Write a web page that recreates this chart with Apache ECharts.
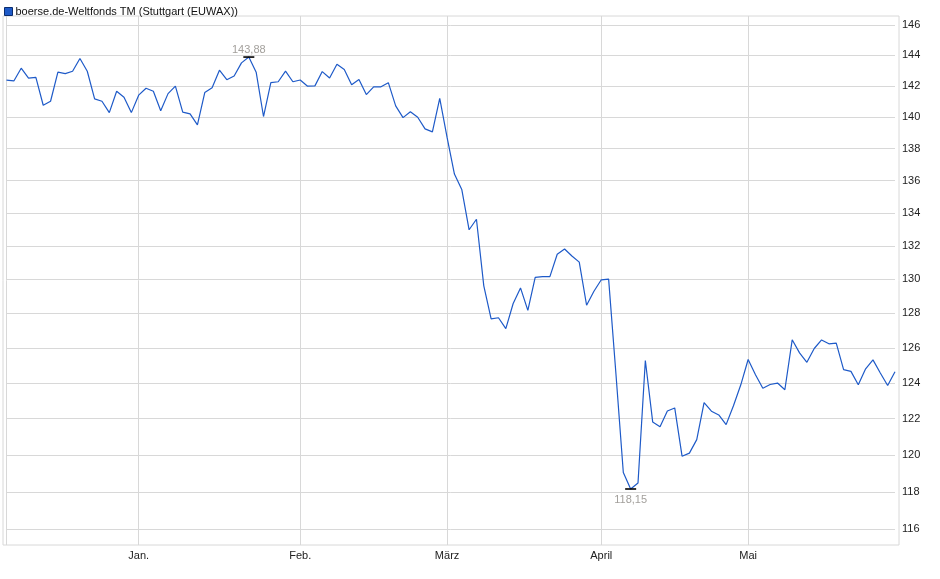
<!DOCTYPE html>
<html>
<head>
<meta charset="utf-8">
<script src="https://cdn.jsdelivr.net/npm/echarts@6/dist/echarts.min.js"></script>
<style>
html,body{margin:0;padding:0;background:#fff;}
#c{width:940px;height:579px;}
</style>
</head>
<body>
<div id="c"></div>
<script>
// Trading days (Börse Stuttgart), Dec 2024 – May 2025
var dates = [
 "2024-12-02","2024-12-03","2024-12-04","2024-12-05","2024-12-06","2024-12-09","2024-12-10","2024-12-11","2024-12-12","2024-12-13",
 "2024-12-16","2024-12-17","2024-12-18","2024-12-19","2024-12-20","2024-12-23","2024-12-27","2024-12-30",
 "2025-01-02","2025-01-03","2025-01-06","2025-01-07","2025-01-08","2025-01-09","2025-01-10","2025-01-13","2025-01-14","2025-01-15",
 "2025-01-16","2025-01-17","2025-01-20","2025-01-21","2025-01-22","2025-01-23","2025-01-24","2025-01-27","2025-01-28","2025-01-29",
 "2025-01-30","2025-01-31",
 "2025-02-03","2025-02-04","2025-02-05","2025-02-06","2025-02-07","2025-02-10","2025-02-11","2025-02-12","2025-02-13","2025-02-14",
 "2025-02-17","2025-02-18","2025-02-19","2025-02-20","2025-02-21","2025-02-24","2025-02-25","2025-02-26","2025-02-27","2025-02-28",
 "2025-03-03","2025-03-04","2025-03-05","2025-03-06","2025-03-07","2025-03-10","2025-03-11","2025-03-12","2025-03-13","2025-03-14",
 "2025-03-17","2025-03-18","2025-03-19","2025-03-20","2025-03-21","2025-03-24","2025-03-25","2025-03-26","2025-03-27","2025-03-28",
 "2025-03-31",
 "2025-04-01","2025-04-02","2025-04-03","2025-04-04","2025-04-07","2025-04-08","2025-04-09","2025-04-10","2025-04-11","2025-04-14",
 "2025-04-15","2025-04-16","2025-04-17","2025-04-22","2025-04-23","2025-04-24","2025-04-25","2025-04-28","2025-04-29","2025-04-30",
 "2025-05-02","2025-05-05","2025-05-06","2025-05-07","2025-05-08","2025-05-09","2025-05-12","2025-05-13","2025-05-14","2025-05-15",
 "2025-05-16","2025-05-19","2025-05-20","2025-05-21","2025-05-22","2025-05-23","2025-05-26","2025-05-27","2025-05-28","2025-05-29",
 "2025-05-30"
];

var prices = [
 142.38,142.32,143.15,142.51,142.55,140.75,141.01,142.89,142.80,142.95,
 143.79,142.95,141.16,141.01,140.28,141.65,141.27,140.28,
 141.40,141.85,141.65,140.40,141.50,141.98,140.31,140.20,139.50,141.57,
 141.88,143.02,142.40,142.64,143.50,143.88,142.89,140.03,142.21,142.27,
 142.96,142.27,
 142.38,141.98,142.00,142.93,142.51,143.41,143.07,142.08,142.42,141.44,
 141.94,141.94,142.21,140.71,139.96,140.33,139.98,139.24,139.05,141.20,
 138.70,136.40,135.45,132.98,133.62,129.62,127.68,127.75,127.12,128.58,
 129.50,128.18,130.12,130.17,130.17,131.50,131.82,131.40,131.03,128.48,
 129.30,
 129.98,130.02,124.50,119.04,118.15,118.47,125.28,121.82,121.55,122.43,
 122.60,119.93,120.10,120.84,122.90,122.42,122.21,121.67,122.72,123.90,
 125.34,124.47,123.71,123.92,124.00,123.62,126.47,125.72,125.18,125.97,
 126.46,126.24,126.28,124.76,124.66,123.90,124.81,125.32,124.57,123.86,
 124.64
];

var yTicks = [116,118,120,122,124,126,128,130,132,134,136,138,140,142,144,146];
var monthKeys  = ["2024-12","2025-01","2025-02","2025-03","2025-04","2025-05"];
var monthNames = ["Dez.","Jan.","Feb.","März","April","Mai"];
var seriesName = "boerse.de-Weltfonds TM (Stuttgart (EUWAX))";

function isMonthStart(i){
  if (i === 0) return true;
  return dates[i].slice(0,7) !== dates[i-1].slice(0,7);
}
function fmtDe(v){ return v.toFixed(2).replace('.', ','); }

var FONT = "'Liberation Sans', Arial, sans-serif";
var GRID_C = '#d8d8d8';
var LINE_C = '#1e5ac8';

var chart = echarts.init(document.getElementById('c'), null, {renderer:'canvas'});
chart.setOption({
  animation: false,
  backgroundColor: '#fff',
  textStyle: {fontFamily: FONT},
  legend: {
    left: -1, top: 1,
    icon: 'rect', itemWidth: 8, itemHeight: 8, itemGap: 4,
    textStyle: {fontSize: 11, color: '#111', fontFamily: FONT, padding:[0,0,0,-2]},
    itemStyle: {color: LINE_C, borderColor: '#0b2c6e', borderWidth: 1},
    data: [seriesName]
  },
  grid: [
    {left: 6.5, right: 45, top: 16, bottom: 34, show: false, containLabel: false},
    {left: 3, right: 41, top: 16, bottom: 34, show: true, borderColor: GRID_C, borderWidth: 1, backgroundColor: 'transparent'}
  ],
  xAxis: {
    type: 'category', gridIndex: 0,
    data: dates, boundaryGap: false,
    axisLine: {show: false},
    axisTick: {show: false},
    axisLabel: {
      interval: function(i){ return i > 0 && isMonthStart(i); },
      formatter: function(v){ var k = monthKeys.indexOf(v.slice(0,7)); return k >= 0 ? monthNames[k] : ''; },
      fontSize: 11, color: '#222', margin: 5, fontFamily: FONT
    },
    splitLine: {show: true, interval: function(i){ return isMonthStart(i); }, lineStyle: {color: GRID_C, width: 1}}
  },
  yAxis: {
    type: 'log', gridIndex: 0, position: 'right', logBase: 10,
    min: 115.17, max: 146.6,
    axisLine: {show: false},
    axisTick: {show: false, customValues: yTicks},
    axisLabel: {customValues: yTicks, fontSize: 11, color: '#222', margin: 7, fontFamily: FONT,
      formatter: function(v){ return String(Math.round(v)); }},
    splitLine: {show: true, lineStyle: {color: GRID_C, width: 1}}
  },
  series: [{
    name: seriesName, type: 'line', data: prices,
    xAxisIndex: 0, yAxisIndex: 0,
    showSymbol: false, symbol: 'none',
    lineStyle: {color: LINE_C, width: 1.2},
    itemStyle: {color: LINE_C},
    markPoint: {
      symbol: 'rect', symbolSize: [11, 1.6],
      itemStyle: {color: '#000'},
      data: [
        {type: 'max', label: {position: 'top', distance: 1}},
        {type: 'min', label: {position: 'bottom', distance: 5}}
      ],
      label: {show: true, color: '#a3a09c', fontSize: 11, fontFamily: FONT,
        formatter: function(p){ return fmtDe(p.value); }}
    }
  }]
});
</script>
</body>
</html>
